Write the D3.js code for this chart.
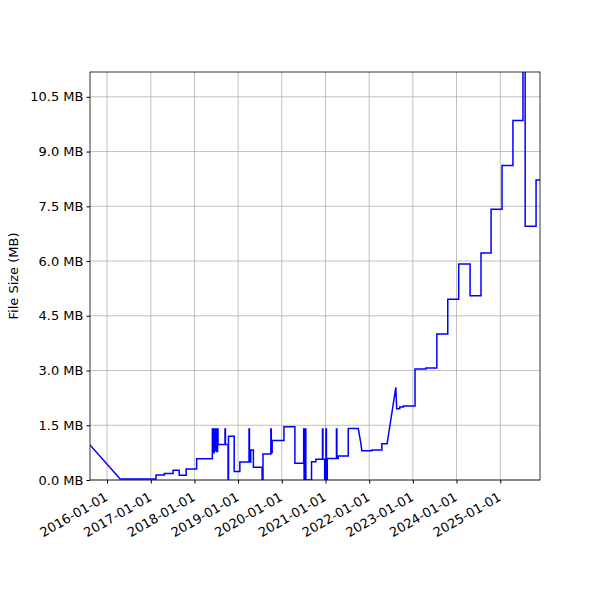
<!DOCTYPE html>
<html><head><meta charset="utf-8">
<script src="https://cdn.jsdelivr.net/npm/d3@7"></script>
<style>body{margin:0;background:#fff}text{font-family:"DejaVu Sans",sans-serif}</style>
</head><body>
<svg id="c" width="600" height="600"></svg>
<script>
// decimal-year timestamps and file sizes (MB)
const years = [2015.61,2016.30,2017.12,2017.12,2017.31,2017.31,2017.51,2017.51,2017.65,2017.65,2017.81,2017.81,2018.05,2018.05,2018.41,
2018.41,2018.43,2018.43,2018.45,2018.45,2018.47,2018.47,2018.49,2018.49,2018.51,2018.51,2018.53,2018.53,2018.54,2018.54,
2018.70,2018.70,2018.71,2018.71,2018.77,2018.77,2018.78,2018.78,2018.91,2018.91,2019.04,2019.04,2019.25,2019.25,2019.26,2019.26,2019.29,2019.29,2019.35,2019.35,2019.55,2019.55,2019.57,2019.57,2019.75,2019.75,2019.76,2019.76,2019.78,2019.78,
2020.05,2020.05,2020.30,2020.30,2020.50,2020.50,2020.51,2020.51,2020.54,2020.54,2020.55,2020.55,2020.68,2020.68,2020.78,2020.78,2020.93,2020.93,2020.94,2020.94,2020.98,2020.98,2021.01,2021.01,2021.02,2021.02,2021.04,2021.04,
2021.25,2021.25,2021.26,2021.26,2021.29,2021.29,2021.52,2021.52,2021.75,2021.81,2021.83,2022.06,2022.06,2022.29,2022.29,2022.41,2022.61,2022.63,2022.70,2022.70,2022.78,2022.78,
2023.05,2023.05,2023.30,2023.30,2023.55,2023.55,2023.80,2023.80,2024.05,2024.05,2024.31,2024.31,2024.56,2024.56,2024.79,2024.79,2025.04,2025.04,2025.29,2025.29,2025.52,2025.52,2025.57,2025.57,2025.82,2025.82,2025.91];
const sizes = [0.96,0.03,0.03,0.14,0.14,0.18,0.18,0.27,0.27,0.13,0.13,0.30,0.30,0.58,0.58,
1.4,1.4,0.75,0.75,1.4,1.4,0.8,0.8,1.4,1.4,0.78,0.78,1.4,1.4,0.97,
0.97,1.4,1.4,0.97,0.97,0,0,1.2,1.2,0.23,0.23,0.49,0.49,1.4,1.4,0.49,0.49,0.82,0.82,0.35,0.35,0,0,0.71,0.71,1.4,1.4,0.75,0.75,1.08,
1.08,1.46,1.46,0.46,0.46,1.4,1.4,0,0,1.4,1.4,0,0,0.5,0.5,0.57,0.57,1.4,1.4,0.57,0.57,0,0,1.4,1.4,0,0,0.59,
0.59,1.4,1.4,0.59,0.59,0.66,0.66,1.41,1.41,1.0,0.8,0.8,0.82,0.82,0.99,0.99,2.54,1.95,1.95,2.0,2.0,2.03,
2.03,3.04,3.04,3.07,3.07,4.0,4.0,4.95,4.95,5.92,5.92,5.05,5.05,6.22,6.22,7.42,7.42,8.62,8.62,9.85,9.85,12,12,6.95,6.95,8.22,8.22];
const yTicks = [0,1.5,3,4.5,6,7.5,9,10.5];
const xTickYears = [2016,2017,2018,2019,2020,2021,2022,2023,2024,2025];

function toDate(y){const yi=Math.floor(y);const a=Date.UTC(yi,0,1),b=Date.UTC(yi+1,0,1);return new Date(a+(y-yi)*(b-a));}
const data = years.map((y,i)=>({d:toDate(y),v:sizes[i]}));

const L=90,R=540,T=72,B=480;
const svg=d3.select("#c");
const x=d3.scaleUtc().domain([toDate(2015.61),toDate(2025.91)]).range([L,R]);
const y=d3.scaleLinear().domain([0,11.18]).range([B,T]);

svg.append("defs").append("clipPath").attr("id","cp").append("rect").attr("x",L).attr("y",T).attr("width",R-L).attr("height",B-T);

const xt=xTickYears.map(v=>new Date(Date.UTC(v,0,1)));
svg.append("g").selectAll("line").data(xt).join("line").attr("x1",d=>x(d)).attr("x2",d=>x(d)).attr("y1",T).attr("y2",B).attr("stroke","#b0b0b0").attr("stroke-width",0.8);
svg.append("g").selectAll("line").data(yTicks).join("line").attr("y1",d=>y(d)).attr("y2",d=>y(d)).attr("x1",L).attr("x2",R).attr("stroke","#b0b0b0").attr("stroke-width",0.8);

svg.append("path").datum(data).attr("clip-path","url(#cp)").attr("fill","none").attr("stroke","#0000ff").attr("stroke-width",1.5)
 .attr("d",d3.line().x(d=>x(d.d)).y(d=>y(d.v)));

const xa=svg.append("g").attr("transform",`translate(0,${B})`).call(d3.axisBottom(x).tickValues(xt).tickFormat(d3.utcFormat("%Y-%m-%d")).tickSizeOuter(0).tickSize(3.5));
xa.selectAll("text").attr("font-size",13).attr("text-anchor","end").attr("dx","0").attr("dy","0").attr("transform","translate(-2,14) rotate(-30)");
const ya=svg.append("g").attr("transform",`translate(${L},0)`).call(d3.axisLeft(y).tickValues(yTicks).tickFormat(d=>d.toFixed(1)+" MB").tickSizeOuter(0).tickSize(3.5));
ya.selectAll("text").attr("font-size",13);
svg.selectAll(".domain").remove();
svg.append("rect").attr("x",L).attr("y",T).attr("width",R-L).attr("height",B-T).attr("fill","none").attr("stroke","#000").attr("stroke-width",0.8);
svg.append("text").attr("transform",`translate(18,${(T+B)/2}) rotate(-90)`).attr("text-anchor","middle").attr("font-size",13).text("File Size (MB)");
</script></body></html>
